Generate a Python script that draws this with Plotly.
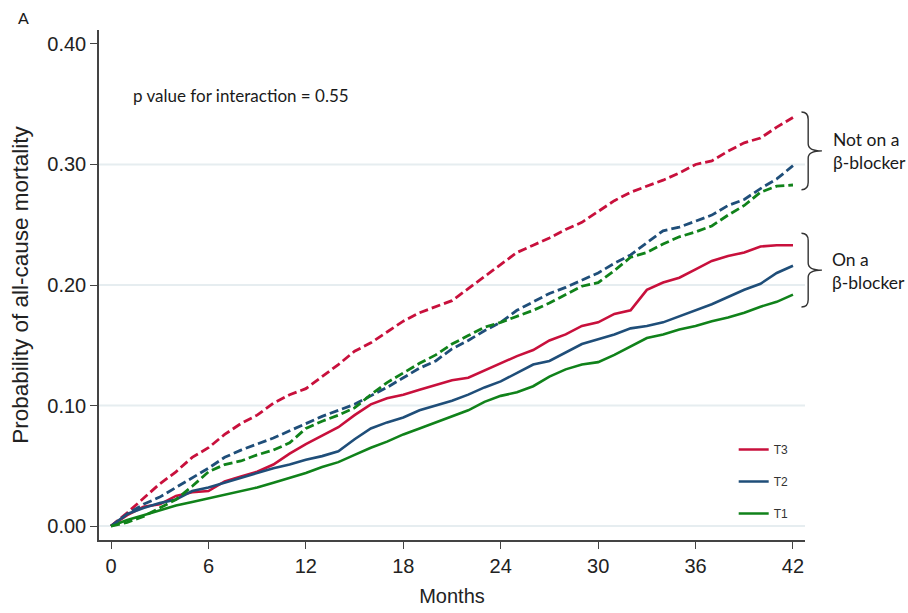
import plotly.graph_objects as go

# Follow-up time (months) shared by all cumulative-incidence curves
months = list(range(0, 43))

# Not on a beta-blocker (dashed)
t3_no_bb = [0, 0.011, 0.023, 0.035, 0.045, 0.057, 0.065, 0.076, 0.085, 0.092,
            0.102, 0.109, 0.114, 0.124, 0.134, 0.145, 0.152, 0.161, 0.170, 0.177,
            0.182, 0.187, 0.197, 0.207, 0.217, 0.227, 0.233, 0.239, 0.246, 0.252,
            0.261, 0.270, 0.277, 0.282, 0.287, 0.293, 0.300, 0.303, 0.311, 0.318,
            0.322, 0.331, 0.339]
t2_no_bb = [0, 0.010, 0.018, 0.024, 0.032, 0.040, 0.048, 0.057, 0.063, 0.068,
            0.073, 0.079, 0.085, 0.091, 0.096, 0.101, 0.108, 0.115, 0.123, 0.131,
            0.137, 0.147, 0.154, 0.162, 0.169, 0.179, 0.186, 0.193, 0.198, 0.204,
            0.210, 0.218, 0.225, 0.235, 0.245, 0.248, 0.253, 0.258, 0.266, 0.271,
            0.280, 0.288, 0.299]
t1_no_bb = [0, 0.003, 0.008, 0.015, 0.022, 0.033, 0.045, 0.051, 0.054, 0.059,
            0.063, 0.069, 0.081, 0.087, 0.092, 0.098, 0.109, 0.119, 0.127, 0.135,
            0.142, 0.151, 0.158, 0.165, 0.169, 0.174, 0.179, 0.185, 0.192, 0.199,
            0.202, 0.212, 0.223, 0.227, 0.234, 0.240, 0.244, 0.249, 0.258, 0.266,
            0.277, 0.282, 0.283]

# On a beta-blocker (solid)
t3_bb = [0, 0.009, 0.016, 0.018, 0.025, 0.028, 0.029, 0.037, 0.041, 0.045,
         0.051, 0.060, 0.068, 0.075, 0.082, 0.092, 0.101, 0.106, 0.109, 0.113,
         0.117, 0.121, 0.123, 0.129, 0.135, 0.141, 0.146, 0.154, 0.159, 0.166,
         0.169, 0.176, 0.179, 0.196, 0.202, 0.206, 0.213, 0.220, 0.224, 0.227,
         0.232, 0.233, 0.233]
t2_bb = [0, 0.010, 0.015, 0.019, 0.022, 0.029, 0.032, 0.036, 0.040, 0.044,
         0.048, 0.051, 0.055, 0.058, 0.062, 0.072, 0.081, 0.086, 0.090, 0.096,
         0.100, 0.104, 0.109, 0.115, 0.120, 0.127, 0.134, 0.137, 0.144, 0.151,
         0.155, 0.159, 0.164, 0.166, 0.169, 0.174, 0.179, 0.184, 0.190, 0.196,
         0.201, 0.210, 0.216]
t1_bb = [0, 0.005, 0.009, 0.013, 0.017, 0.020, 0.023, 0.026, 0.029, 0.032,
         0.036, 0.040, 0.044, 0.049, 0.053, 0.059, 0.065, 0.070, 0.076, 0.081,
         0.086, 0.091, 0.096, 0.103, 0.108, 0.111, 0.116, 0.124, 0.130, 0.134,
         0.136, 0.142, 0.149, 0.156, 0.159, 0.163, 0.166, 0.170, 0.173, 0.177,
         0.182, 0.186, 0.192]

groups = ["T3", "T2", "T1"]
x_ticks = [0, 6, 12, 18, 24, 30, 36, 42]
y_ticks = [0.0, 0.1, 0.2, 0.3, 0.4]
grid_values = [0.0, 0.1, 0.2, 0.3]

colors = {"T3": "#C8103C", "T2": "#1F4E79", "T1": "#10821A"}
on_bb = {"T3": t3_bb, "T2": t2_bb, "T1": t1_bb}
off_bb = {"T3": t3_no_bb, "T2": t2_no_bb, "T1": t1_no_bb}

fig = go.Figure()

for g in groups:
    fig.add_trace(go.Scatter(
        x=months, y=on_bb[g], mode="lines", name=g, legendgroup=g,
        line=dict(color=colors[g], width=2.6),
    ))
for g in groups:
    fig.add_trace(go.Scatter(
        x=months, y=off_bb[g], mode="lines", name=g, legendgroup=g,
        showlegend=False,
        line=dict(color=colors[g], width=2.8, dash="9px,4px"),
    ))

# light horizontal reference lines
for v in grid_values:
    fig.add_shape(type="line", xref="paper", yref="y", x0=0, x1=1, y0=v, y1=v,
                  line=dict(color="#E6EDF0", width=2), layer="below")


def brace(top, bottom):
    """Right-facing curly brace spanning [bottom, top] on the y axis."""
    mid = (top + bottom) / 2
    xa, xb, xt = 0.995, 1.0045, 1.024
    r = 0.006
    return (f"M {xa},{top} Q {xb},{top} {xb},{top - r} "
            f"L {xb},{mid + r} Q {xb},{mid} {xt},{mid} "
            f"Q {xb},{mid} {xb},{mid - r} "
            f"L {xb},{bottom + r} Q {xb},{bottom} {xa},{bottom}")


for top, bottom in [(0.3436, 0.279), (0.243, 0.1817)]:
    fig.add_shape(type="path", xref="paper", yref="y", path=brace(top, bottom),
                  line=dict(color="#333333", width=1.4))

note_font = dict(family="Lato, 'Open Sans', sans-serif", size=17, color="#1a1a1a")
side_font = dict(family="Lato, 'Open Sans', sans-serif", size=17.5, color="#1a1a1a")
fig.add_annotation(text="A", xref="paper", yref="paper", x=-0.118, y=1.025,
                   xanchor="left", yanchor="middle", showarrow=False,
                   font=dict(family="Lato, sans-serif", size=16, color="#1a1a1a"))
fig.add_annotation(text="p value for interaction = 0.55", xref="paper", yref="paper",
                   x=0.046, y=0.8725, xanchor="left", yanchor="middle",
                   showarrow=False, font=note_font)
fig.add_annotation(text="Not on a<br>β-blocker", xref="paper", yref="paper",
                   x=1.037, y=0.7637, xanchor="left", yanchor="middle", align="left",
                   showarrow=False, font=side_font)
fig.add_annotation(text="On a<br>β-blocker", xref="paper", yref="paper",
                   x=1.036, y=0.5284, xanchor="left", yanchor="middle", align="left",
                   showarrow=False, font=side_font)

axis_font = dict(family="Arial, 'Liberation Sans', sans-serif", size=20, color="#222222")
ytitle_font = dict(family="Arial, 'Liberation Sans', sans-serif", size=22.5, color="#222222")

fig.update_layout(
    width=908, height=613,
    margin=dict(l=99, r=103, t=30, b=73),
    paper_bgcolor="white", plot_bgcolor="white",
    showlegend=True,
    legend=dict(x=0.899, y=0.206, xanchor="left", yanchor="top",
                bgcolor="rgba(0,0,0,0)", borderwidth=0, tracegroupgap=13,
                font=dict(family="Arial, sans-serif", size=12, color="#333333")),
    xaxis=dict(
        range=[-0.74, 42.74], tickmode="array", tickvals=x_ticks,
        ticktext=[str(t) for t in x_ticks], automargin=False,
        showgrid=False, zeroline=False, showline=True, linecolor="#444444",
        linewidth=1.5, ticks="outside", ticklen=7, tickwidth=1.2, tickcolor="#444444",
        tickfont=axis_font,
        title=dict(text="Months", font=axis_font, standoff=13),
    ),
    yaxis=dict(
        range=[-0.0116, 0.4116], tickmode="array", tickvals=y_ticks,
        ticktext=[f"{t:.2f}" for t in y_ticks], automargin=False,
        showgrid=False, zeroline=False, showline=True, linecolor="#444444",
        linewidth=1.5, ticks="outside", ticklen=7, tickwidth=1.2, tickcolor="#444444",
        tickfont=axis_font,
        title=dict(text="Probability of all-cause mortality", font=ytitle_font, standoff=12),
    ),
)

fig.write_html("out.html")
